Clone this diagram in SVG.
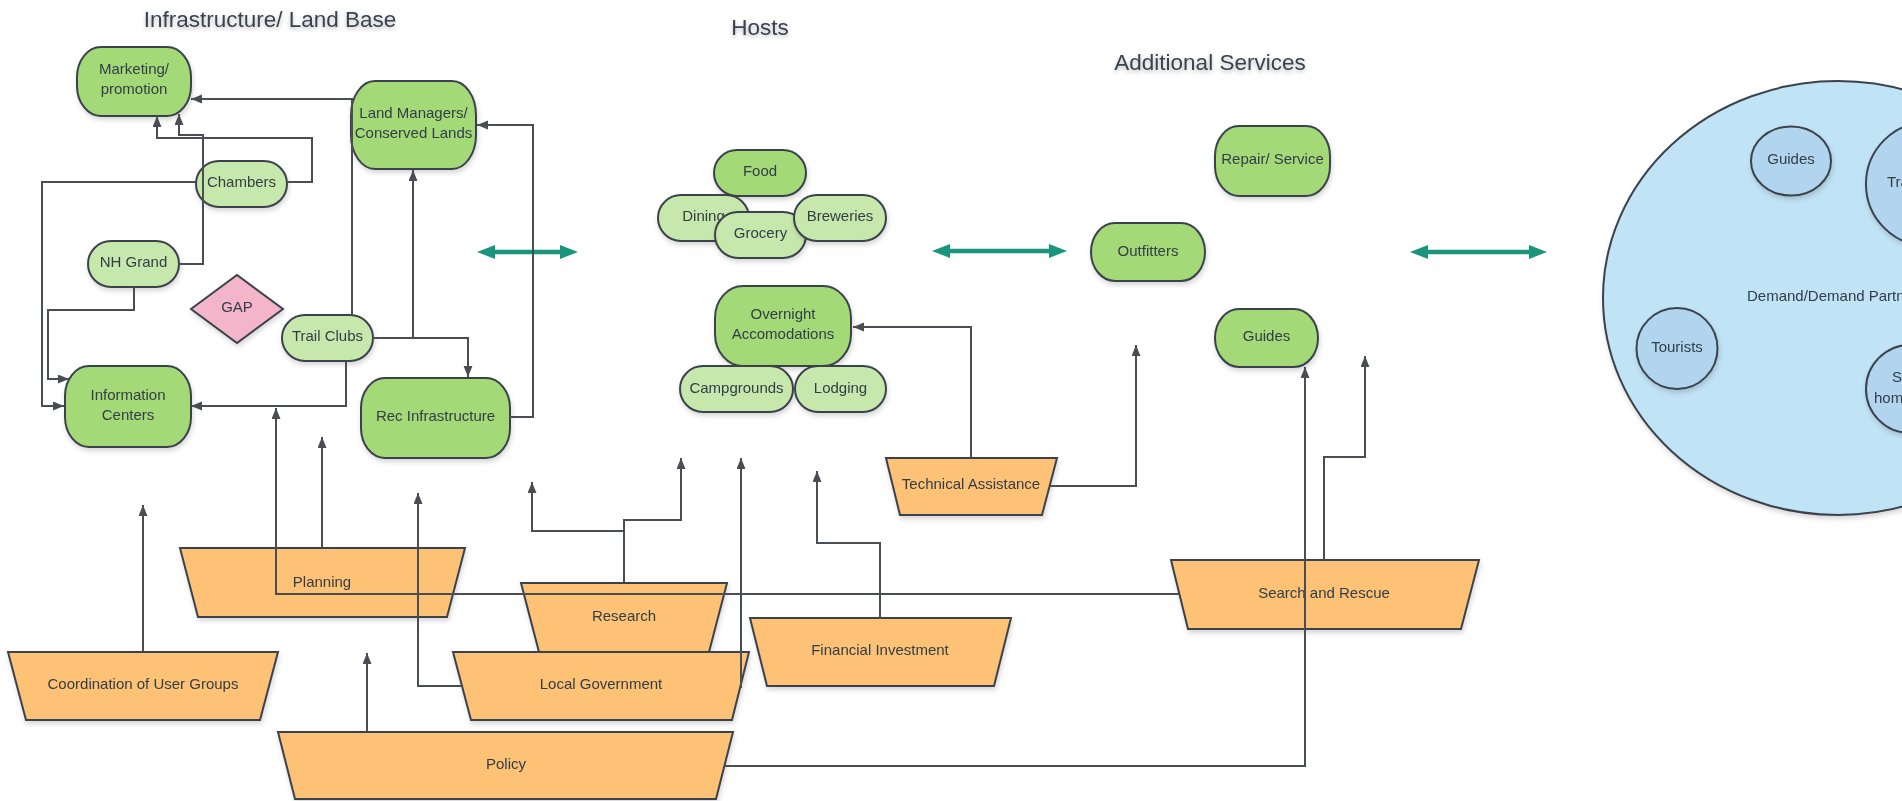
<svg xmlns="http://www.w3.org/2000/svg" width="1902" height="801" viewBox="0 0 1902 801">
  <defs>
    <filter id="shadow" x="-20%" y="-20%" width="140%" height="160%">
      <feDropShadow dx="1" dy="3" stdDeviation="2.5" flood-color="#000" flood-opacity="0.16"/>
    </filter>
    <filter id="textShadow" x="-10%" y="-40%" width="120%" height="180%">
      <feDropShadow dx="0" dy="2" stdDeviation="2" flood-color="#000" flood-opacity="0.28"/>
    </filter>
    <marker id="arrow" markerUnits="userSpaceOnUse" markerWidth="12" markerHeight="10" refX="11" refY="4.5" orient="auto">
      <path d="M0,0 L11,4.5 L0,9 z" fill="#4a4e54"/>
    </marker>
    <marker id="teal" markerUnits="userSpaceOnUse" markerWidth="20" markerHeight="16" refX="8" refY="7" orient="auto-start-reverse">
      <path d="M0,0 L18,7 L0,14 z" fill="#1a957b"/>
    </marker>
  </defs>
  <style>
    .t { font-family: "Liberation Sans", Arial, sans-serif; font-size: 15px; fill: #333d47; text-anchor: middle; }
    .s { text-anchor: start; }
    .title { font-size: 22.5px; fill: #3a4350; filter: url(#textShadow); }
    .node { filter: url(#shadow); }
    .dk { fill: #a3d977; stroke: #3b424c; stroke-width: 2; }
    .lt { fill: #c7e8ac; stroke: #3b424c; stroke-width: 2; }
    .or { fill: #fdc274; stroke: #3b424c; stroke-width: 2; }
    .pk { fill: #f4b4c9; stroke: #3b424c; stroke-width: 2; }
    .bl { fill: #c1e3f6; stroke: #3b424c; stroke-width: 2; }
    .bl2 { fill: #b1d5ef; stroke: #3b424c; stroke-width: 2; }
    .ln { fill: none; stroke: #4a4e54; stroke-width: 2; marker-end: url(#arrow); }
    .gl { fill: none; stroke: #1a957b; stroke-width: 4.5; marker-start: url(#teal); marker-end: url(#teal); }
  </style>

  <rect width="1902" height="801" fill="#ffffff"/>

  <!-- section headings -->
  <g id="headings">
    <text class="t title" x="270" y="27">Infrastructure/ Land Base</text>
    <text class="t title" x="760" y="35">Hosts</text>
    <text class="t title" x="1210" y="70">Additional Services</text>
  </g>

  <!-- demand side -->
  <g id="demand" class="node">
    <ellipse class="bl" cx="1838" cy="298" rx="235" ry="217"/>
    <text class="t s" x="1747" y="301">Demand/Demand Partn</text>
  </g>
  <g id="demand-guides" class="node">
    <ellipse class="bl2" cx="1791" cy="161" rx="40" ry="34.5"/>
    <text class="t" x="1791" y="164">Guides</text>
  </g>
  <g id="demand-tourists" class="node">
    <ellipse class="bl2" cx="1677" cy="348.5" rx="40.5" ry="40.5"/>
    <text class="t" x="1677" y="352">Tourists</text>
  </g>
  <g id="demand-tra" class="node">
    <ellipse class="bl2" cx="1928" cy="184" rx="62" ry="62"/>
    <text class="t s" x="1887" y="187">Tra</text>
  </g>
  <g id="demand-s" class="node">
    <ellipse class="bl2" cx="1910" cy="389" rx="44" ry="44"/>
    <text class="t s" x="1892" y="382">S</text>
    <text class="t s" x="1874" y="403">hom</text>
  </g>

  <!-- infrastructure / land base -->
  <g id="marketing" class="node">
    <rect class="dk" x="77" y="47" width="114" height="69" rx="24" ry="30"/>
    <text class="t" x="134" y="74">Marketing/</text>
    <text class="t" x="134" y="94">promotion</text>
  </g>
  <g id="land-managers" class="node">
    <rect class="dk" x="351" y="81" width="125" height="88" rx="24" ry="34"/>
    <text class="t" x="413.5" y="118">Land Managers/</text>
    <text class="t" x="413.5" y="138">Conserved Lands</text>
  </g>
  <g id="chambers" class="node">
    <rect class="lt" x="196" y="161" width="91" height="46" rx="23" ry="23"/>
    <text class="t" x="241.5" y="187">Chambers</text>
  </g>
  <g id="nh-grand" class="node">
    <rect class="lt" x="88" y="241" width="91" height="46" rx="23" ry="23"/>
    <text class="t" x="133.5" y="267">NH Grand</text>
  </g>
  <g id="gap" class="node">
    <polygon class="pk" points="191,309 237,275 283,309 237,343"/>
    <text class="t" x="237" y="312">GAP</text>
  </g>
  <g id="trail-clubs" class="node">
    <rect class="lt" x="282" y="315" width="91" height="46" rx="23" ry="23"/>
    <text class="t" x="327.5" y="341">Trail Clubs</text>
  </g>
  <g id="information-centers" class="node">
    <rect class="dk" x="65" y="366" width="126" height="81" rx="24" ry="30"/>
    <text class="t" x="128" y="400">Information</text>
    <text class="t" x="128" y="420">Centers</text>
  </g>
  <g id="rec-infrastructure" class="node">
    <rect class="dk" x="361" y="378" width="149" height="80" rx="24" ry="30"/>
    <text class="t" x="435.5" y="421">Rec Infrastructure</text>
  </g>

  <!-- hosts -->
  <g id="food" class="node">
    <rect class="dk" x="714" y="150" width="92" height="46" rx="23" ry="23"/>
    <text class="t" x="760" y="176">Food</text>
  </g>
  <g id="dining" class="node">
    <rect class="lt" x="658" y="195" width="91" height="46" rx="23" ry="23"/>
    <text class="t" x="703.5" y="221">Dining</text>
  </g>
  <g id="grocery" class="node">
    <rect class="lt" x="715" y="212" width="91" height="46" rx="23" ry="23"/>
    <text class="t" x="760.5" y="238">Grocery</text>
  </g>
  <g id="breweries" class="node">
    <rect class="lt" x="794" y="195" width="92" height="46" rx="23" ry="23"/>
    <text class="t" x="840" y="221">Breweries</text>
  </g>
  <g id="overnight" class="node">
    <rect class="dk" x="715" y="286" width="136" height="80" rx="28" ry="32"/>
    <text class="t" x="783" y="319">Overnight</text>
    <text class="t" x="783" y="339">Accomodations</text>
  </g>
  <g id="campgrounds" class="node">
    <rect class="lt" x="680" y="366" width="113" height="46" rx="23" ry="23"/>
    <text class="t" x="736.5" y="393">Campgrounds</text>
  </g>
  <g id="lodging" class="node">
    <rect class="lt" x="795" y="366" width="91" height="46" rx="23" ry="23"/>
    <text class="t" x="840.5" y="393">Lodging</text>
  </g>

  <!-- additional services -->
  <g id="repair-service" class="node">
    <rect class="dk" x="1215" y="126" width="115" height="70" rx="24" ry="30"/>
    <text class="t" x="1272.5" y="164">Repair/ Service</text>
  </g>
  <g id="outfitters" class="node">
    <rect class="dk" x="1091" y="223" width="114" height="58" rx="24" ry="29"/>
    <text class="t" x="1148" y="256">Outfitters</text>
  </g>
  <g id="guides" class="node">
    <rect class="dk" x="1215" y="309" width="103" height="58" rx="24" ry="29"/>
    <text class="t" x="1266.5" y="341">Guides</text>
  </g>

  <!-- supporting functions -->
  <g id="planning" class="node">
    <polygon class="or" points="180,548 465,548 447,617 198,617"/>
    <text class="t" x="322" y="587">Planning</text>
  </g>
  <g id="coordination" class="node">
    <polygon class="or" points="8,652 278,652 260,720 26,720"/>
    <text class="t" x="143" y="689">Coordination of User Groups</text>
  </g>
  <g id="research" class="node">
    <polygon class="or" points="521,583 727,583 709,652 539,652"/>
    <text class="t" x="624" y="621">Research</text>
  </g>
  <g id="local-government" class="node">
    <polygon class="or" points="453,652 749,652 732,720 471,720"/>
    <text class="t" x="601" y="689">Local Government</text>
  </g>
  <g id="policy" class="node">
    <polygon class="or" points="278,732 733,732 716,799 295,799"/>
    <text class="t" x="506" y="769">Policy</text>
  </g>
  <g id="financial-investment" class="node">
    <polygon class="or" points="750,618 1011,618 994,686 767,686"/>
    <text class="t" x="880" y="655">Financial Investment</text>
  </g>
  <g id="technical-assistance" class="node">
    <polygon class="or" points="886,458 1057,458 1042,515 900,515"/>
    <text class="t" x="971" y="489">Technical Assistance</text>
  </g>
  <g id="search-rescue" class="node">
    <polygon class="or" points="1171,560 1479,560 1461,629 1188,629"/>
    <text class="t" x="1324" y="598">Search and Rescue</text>
  </g>

  <!-- connectors -->
  <g id="connectors">
    <line class="gl" x1="487" y1="252" x2="568" y2="252"/>
    <line class="gl" x1="942" y1="251" x2="1057" y2="251"/>
    <line class="gl" x1="1420" y1="252" x2="1537" y2="252"/>

    <path class="ln" d="M352,315 V99 H191"/>
    <path class="ln" d="M287,182 H312 V138 H157 V116"/>
    <path class="ln" d="M179,264 H203 V135 H179 V114"/>
    <path class="ln" d="M196,182 H42 V406 H64"/>
    <path class="ln" d="M134,287 V310 H48 V379 H69"/>
    <path class="ln" d="M346,361 V406 H191"/>
    <path class="ln" d="M373,338 H413 V170"/>
    <path class="ln" d="M373,338 H468 V377"/>
    <path class="ln" d="M510,417 H533 V125 H477"/>
    <path class="ln" d="M1179,594 H276 V408"/>
    <path class="ln" d="M322,548 V437"/>
    <path class="ln" d="M143,652 V505"/>
    <path class="ln" d="M462,686 H418 V493"/>
    <path class="ln" d="M367,732 V653"/>
    <path class="ln" d="M624,583 V531 H532 V482"/>
    <path class="ln" d="M624,583 V520 H681 V458"/>
    <path class="ln" d="M740,687 H741 V458"/>
    <path class="ln" d="M880,618 V543 H817 V471"/>
    <path class="ln" d="M971,458 V327 H853"/>
    <path class="ln" d="M1050,486 H1136 V345"/>
    <path class="ln" d="M1324,560 V457 H1365 V356"/>
    <path class="ln" d="M724,766 H1305 V367"/>
  </g>
</svg>
